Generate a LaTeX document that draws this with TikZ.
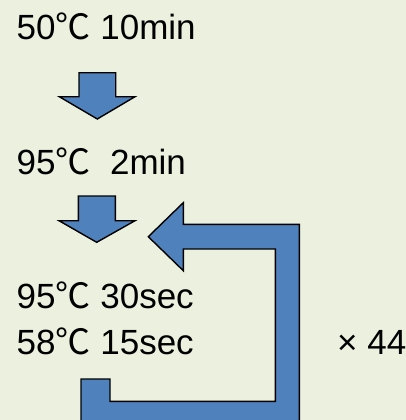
\documentclass[tikz,border=0pt]{standalone}
\usepackage{fontspec}
\setmainfont{Liberation Sans}
\newfontfamily\cjkjp{Noto Sans CJK JP}
\newcommand{\dC}{{\cjkjp ℃}}
\definecolor{bgc}{HTML}{EBF1DE}
\definecolor{arrc}{HTML}{4F81BD}
\tikzset{
  lbl/.style={inner sep=0pt, anchor=base west, font=\fontsize{35}{40}\selectfont},
  blockarrow/.style={fill=arrc, draw=black, line width=1.4pt, line join=miter}
}
\begin{document}
\begin{tikzpicture}[x=1pt,y=-1pt]
\useasboundingbox (0,0) rectangle (406,420);
\clip (0,0) rectangle (406,420);
\fill[bgc] (0,0) rectangle (406,420);
% texts
\node[lbl] (t1) at (16.5,40) {50\dC\ 10min};
\node[lbl] (t2) at (16.5,174) {95\dC\ \ 2min};
\node[lbl] (t3) at (16.5,308) {95\dC\ 30sec};
\node[lbl] (t4) at (16.5,354) {58\dC\ 15sec};
\node[lbl] (t5) at (337,354) {× 44};
% down arrow 1
\draw[blockarrow] (79,72.7) -- (115.7,72.7) -- (115.7,96.7) -- (135,96.7) -- (97.3,119) -- (59.3,96.7) -- (79,96.7) -- cycle;
% down arrow 2
\draw[blockarrow] (78.3,196) -- (115.3,196) -- (115.3,220.7) -- (135,220.7) -- (96.7,242.3) -- (59,220.7) -- (78.3,220.7) -- cycle;
% loop arrow
\draw[blockarrow] (148.3,236.7) -- (183.3,202.7) -- (183.3,224.3) -- (299.3,224.3) -- (299.3,440) -- (81,440) -- (81,379) -- (110,379) -- (110,401.3) -- (275.3,401.3) -- (275.3,249) -- (183.3,249) -- (183.3,270.7) -- cycle;
\end{tikzpicture}
\end{document}
